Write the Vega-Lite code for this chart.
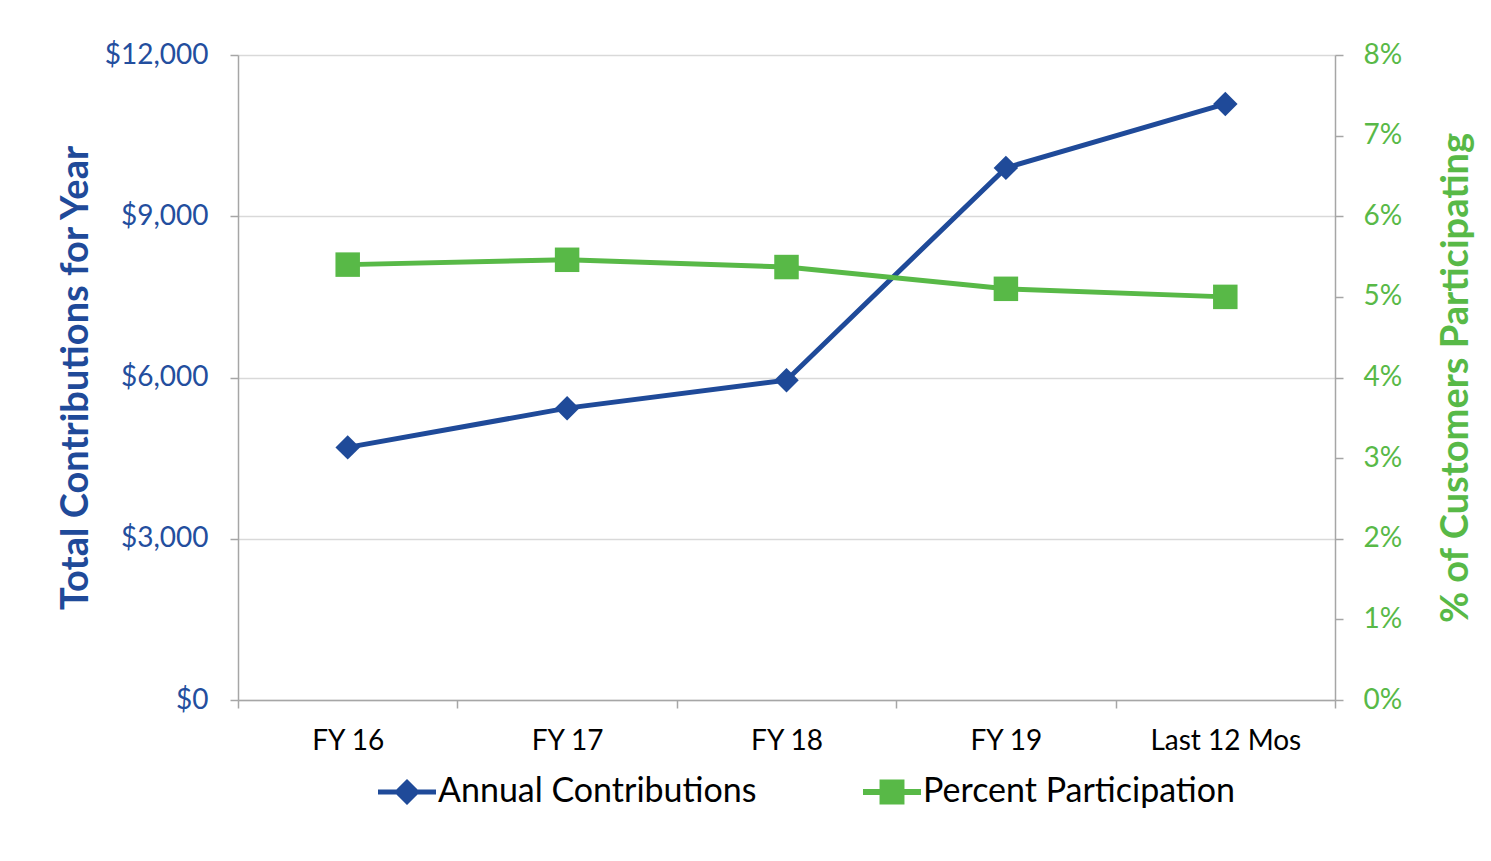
{
  "$schema": "https://vega.github.io/schema/vega-lite/v6.json",
  "width": 1097,
  "height": 645,
  "autosize": {"type": "none"},
  "padding": {"left": 238, "top": 55, "right": 156, "bottom": 161},
  "background": "white",
  "config": {
    "view": {"stroke": null},
    "font": "Lato",
    "axis": {"labelFont": "Lato", "titleFont": "Lato"},
    "legend": {"labelFont": "Lato"}
  },
  "data": {
    "values": [
      {"period": "FY 16", "contributions": 4700, "participation": 0.0540},
      {"period": "FY 17", "contributions": 5430, "participation": 0.0546},
      {"period": "FY 18", "contributions": 5950, "participation": 0.0537},
      {"period": "FY 19", "contributions": 9900, "participation": 0.0510},
      {"period": "Last 12 Mos", "contributions": 11090, "participation": 0.0500}
    ]
  },
  "encoding": {
    "x": {
      "field": "period",
      "type": "nominal",
      "sort": null,
      "scale": {"type": "band", "paddingInner": 0, "paddingOuter": 0},
      "axis": {
        "title": null,
        "labelAngle": 0,
        "labelFontSize": 28,
        "labelColor": "#000000",
        "labelPadding": 19,
        "tickBand": "extent",
        "tickSize": 8,
        "tickColor": "#A6A6A6",
        "tickWidth": 1.5,
        "domainColor": "#A6A6A6",
        "domainWidth": 1.5,
        "grid": false
      }
    }
  },
  "layer": [
    {
      "encoding": {
        "y": {
          "field": "contributions",
          "type": "quantitative",
          "scale": {"domain": [0, 12000], "nice": false},
          "axis": {
            "orient": "left",
            "title": "Total Contributions for Year",
            "titleFontSize": 38,
            "titleFontWeight": "bold",
            "titleColor": "#1F4A99",
            "titlePadding": 9,
            "values": [0, 3000, 6000, 9000, 12000],
            "format": "$,.0f",
            "labelFontSize": 28,
            "labelColor": "#234E9E",
            "labelPadding": 22,
            "tickSize": 8,
            "tickColor": "#A6A6A6",
            "tickWidth": 1.5,
            "domainColor": "#A6A6A6",
            "domainWidth": 1.5,
            "grid": true,
            "gridColor": "#D9D9D9",
            "gridWidth": 1.5
          }
        },
        "color": {
          "datum": "Annual Contributions",
          "scale": {
            "domain": ["Annual Contributions", "Percent Participation"],
            "range": ["#1F4A99", "#58B947"]
          },
          "legend": {
            "title": null,
            "orient": "none",
            "direction": "horizontal",
            "legendX": 140,
            "legendY": 708,
            "padding": 0,
            "labelFontSize": 34,
            "labelLimit": 0,
            "labelColor": "#000000",
            "labelOffset": 2,
            "columnPadding": 106,
            "symbolSize": 3364,
            "symbolStrokeWidth": 0,
            "encode": {
              "symbols": {
                "update": {
                  "shape": {"signal": "datum.value === 'Annual Contributions' ? 'M-1,-0.09H1V0.09H-1Z M0,-0.45L0.45,0L0,0.45L-0.45,0Z' : 'M-1,-0.1H1V0.1H-1Z M-0.43,-0.43H0.43V0.43H-0.43Z'"},
                  "fill": {"signal": "datum.value === 'Annual Contributions' ? '#1F4A99' : '#58B947'"},
                  "fillOpacity": {"value": 1},
                  "stroke": {"value": "transparent"},
                  "opacity": {"value": 1}
                }
              }
            }
          }
        }
      },
      "layer": [
        {"mark": {"type": "line", "strokeWidth": 5}},
        {"mark": {"type": "point", "shape": "diamond", "filled": true, "size": 600, "opacity": 1}}
      ]
    },
    {
      "encoding": {
        "y": {
          "field": "participation",
          "type": "quantitative",
          "scale": {"domain": [0, 0.08], "nice": false},
          "axis": {
            "orient": "right",
            "title": "% of Customers Participating",
            "titleFontSize": 38,
            "titleFontWeight": "bold",
            "titleColor": "#58B947",
            "titleAngle": 270,
            "titlePadding": 74,
            "values": [0, 0.01, 0.02, 0.03, 0.04, 0.05, 0.06, 0.07, 0.08],
            "format": ".0%",
            "labelFontSize": 28,
            "labelColor": "#58B947",
            "labelPadding": 20,
            "tickSize": 8,
            "tickColor": "#A6A6A6",
            "tickWidth": 1.5,
            "domainColor": "#A6A6A6",
            "domainWidth": 1.5,
            "grid": false
          }
        },
        "color": {"datum": "Percent Participation"}
      },
      "layer": [
        {"mark": {"type": "line", "strokeWidth": 5}},
        {"mark": {"type": "point", "shape": "square", "filled": true, "size": 600, "opacity": 1, "cornerRadius": 3}}
      ]
    }
  ],
  "resolve": {"scale": {"y": "independent"}}
}
